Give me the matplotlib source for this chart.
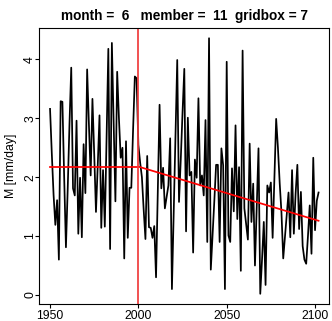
import numpy as np
import matplotlib
matplotlib.use("Agg")
import matplotlib.pyplot as plt

plt.rcParams['font.family'] = ['Liberation Sans', 'DejaVu Sans']

# Annual series 1950-2102
first_year = 1950
values = [
    # 1950-1999
    3.16, 2.40, 1.70, 1.19, 1.61, 0.60, 3.29, 3.28, 2.00, 0.81,
    1.80, 2.90, 3.86, 1.81, 1.69, 2.96, 1.04, 1.99, 0.98, 2.56,
    1.73, 3.83, 2.90, 2.03, 3.33, 2.40, 1.41, 2.20, 3.05, 1.14,
    2.12, 1.16, 2.70, 4.18, 0.78, 4.28, 2.90, 1.59, 3.79, 3.00,
    2.33, 2.50, 0.62, 2.61, 0.97, 1.82, 1.82, 2.80, 3.71, 3.68,
    # 2000-2049
    2.55, 2.25, 2.00, 1.45, 0.95, 2.36, 1.15, 1.14, 0.97, 1.17,
    0.30, 1.75, 3.23, 1.81, 2.16, 1.47, 1.66, 1.86, 2.66, 0.10,
    1.40, 2.70, 3.99, 1.58, 2.30, 3.10, 3.84, 1.08, 3.01, 2.03,
    2.09, 0.72, 2.30, 1.99, 3.34, 1.86, 2.03, 1.69, 2.97, 0.90,
    4.36, 0.43, 1.00, 1.60, 2.21, 2.21, 0.90, 2.49, 2.20, 0.10,
    # 2050-2102
    3.96, 1.01, 0.90, 2.15, 1.42, 2.88, 1.29, 2.17, 0.41, 4.15,
    1.47, 1.20, 0.94, 2.57, 1.24, 1.89, 0.50, 1.50, 2.49, 0.02,
    0.60, 1.24, 0.17, 1.86, 1.74, 1.91, 0.97, 2.00, 2.99, 2.50,
    1.90, 1.40, 0.62, 1.00, 1.40, 1.74, 0.98, 2.12, 1.04, 1.72,
    2.21, 1.12, 1.75, 0.83, 0.60, 0.53, 1.00, 1.52, 0.70, 2.33,
    1.10, 1.60, 1.74,
]
years = np.arange(first_year, first_year + len(values))

# Reference period level and linear trend afterwards
split_year = 2000
baseline_level = 2.18
trend_end_level = 1.26

month, member, gridbox = 6, 11, 7
x_ticks = [1950, 2000, 2050, 2100]
y_ticks = [0, 1, 2, 3, 4]

fig = plt.figure(figsize=(3.32, 3.21), dpi=100)
ax = fig.add_axes([39.3 / 332, 17 / 321, 290 / 332, 276 / 321])

ax.plot(years, values, color='black', lw=1.25)
ax.plot([years[0], split_year], [baseline_level, baseline_level], color='red', lw=1.25)
ax.plot([split_year, years[-1]], [baseline_level, trend_end_level], color='red', lw=1.25)
ax.axvline(split_year, color='#f03c3c', lw=1.25)

# R-style 4% axis extension
def padded(lo, hi):
    d = (hi - lo) * 0.04
    return lo - d, hi + d

ax.set_xlim(*padded(years[0], years[-1]))
ax.set_ylim(*padded(min(values), max(values)))

ax.set_xticks(x_ticks)
ax.set_yticks(y_ticks)
ax.tick_params(axis='both', direction='out', length=3.2, width=0.8, labelsize=8.8)
ax.tick_params(axis='x', pad=0.8)
ax.tick_params(axis='y', pad=-1.0)
for lab in ax.get_yticklabels():
    lab.set_rotation(90)
    lab.set_va('center')
for s in ax.spines.values():
    s.set_linewidth(0.8)

ax.set_ylabel('M [mm/day]', fontsize=8.8, labelpad=5.5)
ax.set_title(f'month =  {month}   member =  {member}  gridbox = {gridbox}',
             fontsize=9.8, fontweight='bold', pad=6)

fig.savefig('out.png', dpi=100)
